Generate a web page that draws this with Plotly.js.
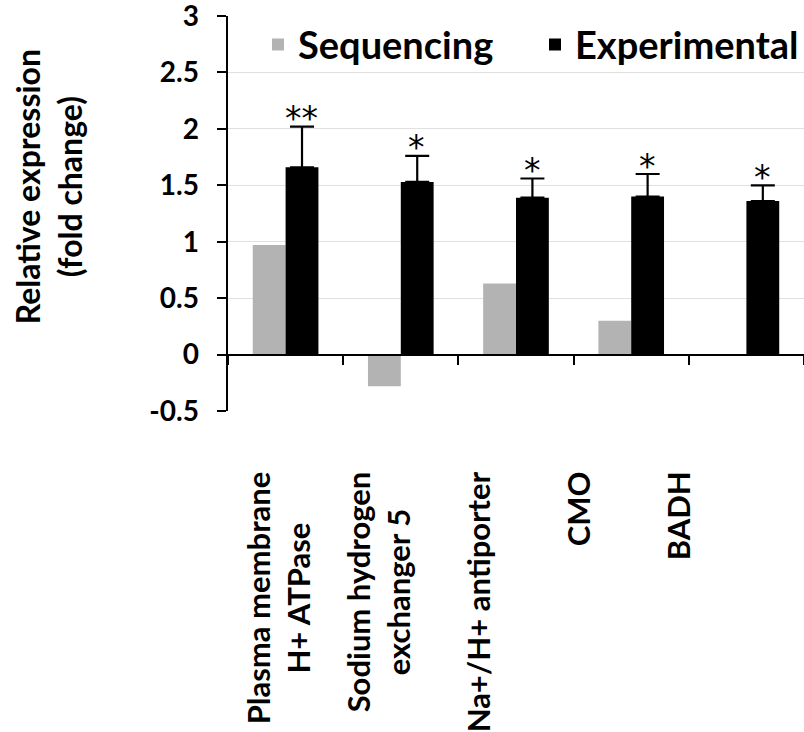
<!DOCTYPE html>
<html>
<head>
<meta charset="utf-8">
<script src="https://cdn.plot.ly/plotly-3.0.1.min.js"></script>
<style>html,body{margin:0;padding:0;background:#fff;}#chart{width:804px;height:732px;}</style>
</head>
<body>
<div id="chart"></div>
<script>
const categories = ["Plasma membrane H+ ATPase", "Sodium hydrogen exchanger 5", "Na+/H+ antiporter", "CMO", "BADH"];
const categoryLabels = ["Plasma membrane<br>H+ ATPase", "Sodium hydrogen<br>exchanger 5", "Na+/H+ antiporter", "CMO", "BADH"];
const sequencing = [0.97, -0.28, 0.63, 0.30, 0];
const experimental = [1.66, 1.53, 1.39, 1.40, 1.36];
const experimentalErr = [0.36, 0.23, 0.17, 0.20, 0.14];
const significance = ["**", "*", "*", "*", "*"];
const yTickVals = [-0.5, 0, 0.5, 1, 1.5, 2, 2.5, 3];
const yTickText = ["-0.5", "0", "0.5", "1", "1.5", "2", "2.5", "3"];

const FONT = "Lato, 'Open Sans', sans-serif";

const traces = [
  {
    type: "bar", name: "Sequencing", x: categories, y: sequencing,
    marker: {color: "#b3b3b3"}, legendwidth: 232
  },
  {
    type: "bar", name: "Experimental", x: categories, y: experimental,
    marker: {color: "#000000"}, legendwidth: 224,
    error_y: {type: "data", symmetric: false, array: experimentalErr,
      arrayminus: experimentalErr.map(() => 0), color: "#000", thickness: 2.2, width: 12}
  }
];

const annotations = [];
categories.forEach((c, i) => {
  annotations.push({
    x: c, xref: "x", y: experimental[i] + experimentalErr[i], yref: "y",
    text: significance[i], showarrow: false, xshift: 16, yshift: 8,
    yanchor: "middle", font: {family: "'DejaVu Sans', sans-serif", size: 33, color: "#000"}
  });
  annotations.push({
    x: i, xref: "x2", y: -0.149, yref: "paper", text: "<b>" + categoryLabels[i] + "</b>",
    textangle: -90, showarrow: false, xanchor: "center", yanchor: "top",
    font: {family: FONT, size: 31, color: "#000"}
  });
});
annotations.push({
  x: -0.312, xref: "paper", y: 0.567, yref: "paper",
  text: "<b>Relative expression<br>(fold change)</b>", textangle: -90,
  showarrow: false, xanchor: "center", yanchor: "middle",
  font: {family: FONT, size: 32, color: "#000"}
});

const layout = {
  width: 804, height: 732,
  margin: {l: 228, r: 0, t: 16, b: 321},
  paper_bgcolor: "#fff", plot_bgcolor: "#fff",
  barmode: "group", bargap: 0.43, bargroupgap: 0,
  showlegend: true,
  legend: {orientation: "h", x: 1, xanchor: "right", y: 0.927, yanchor: "middle",
    font: {family: FONT, size: 38, color: "#000", weight: "bold"}, bgcolor: "rgba(255,255,255,0)"},
  xaxis: {
    type: "category", anchor: "free", position: 1/7,
    showline: true, linecolor: "#000", linewidth: 2.5,
    ticks: "outside", tickson: "boundaries", ticklen: 9, tickwidth: 2, tickcolor: "#000",
    showticklabels: false, showgrid: false, zeroline: false, fixedrange: true
  },
  xaxis2: {
    type: "linear", range: [-0.5, 5.26], autorange: false,
    overlaying: "x", anchor: "y", visible: false
  },
  yaxis: {
    range: [-0.5, 3], autorange: false, tickvals: yTickVals, ticktext: yTickText,
    showline: true, linecolor: "#000", linewidth: 2.5,
    ticks: "outside", ticklen: 9, tickwidth: 2, tickcolor: "#000",
    ticklabelstandoff: 12, ticklabeloverflow: "allow",
    tickfont: {family: FONT, size: 28, color: "#000", weight: "bold"},
    showgrid: true, gridcolor: "#e0e0e0", gridwidth: 1, zeroline: false
  },
  annotations: annotations
};

Plotly.newPlot("chart", traces, layout, {displayModeBar: false, staticPlot: true});
</script>
</body>
</html>
